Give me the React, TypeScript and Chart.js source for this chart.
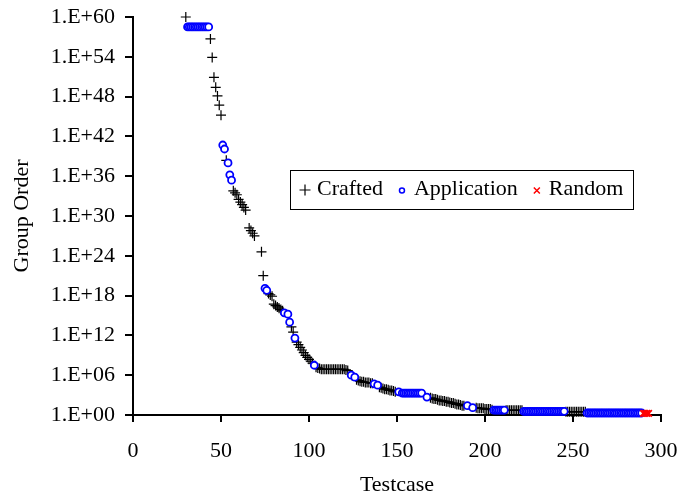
import React, { useEffect, useRef } from "react";
import { Chart, registerables } from "chart.js";

Chart.register(...registerables);

// ---------- data (x = testcase rank, exponent = log10(group order)) ----------
const craftedX = [
  30, 44, 45, 46, 47, 48, 49, 50, 53,
  57, 58, 59,
  60, 61, 62, 63, 64,
  66, 67, 68, 69,
  73, 74,
  77, 78, 79,
  80, 81, 82, 83, 84, 85,
  90, 91,
  93, 94, 95, 96, 97, 98, 99, 100, 101, 102,
  104, 105, 106, 107, 108, 109, 110, 111, 112, 113, 114, 115, 116, 117, 118, 119, 120, 121, 122,
  127, 128, 129, 130, 131, 132, 133, 134, 135, 136,
  140, 141, 142, 143, 144, 145, 146, 147, 148, 149,
  169, 170, 171, 172, 173, 174, 175, 176, 177, 178, 179, 180, 181, 182, 183, 184, 185, 186, 187, 188,
  195, 196, 197, 198, 199, 200, 201, 202, 203, 204,
  212, 213, 214, 215, 216, 217, 218, 219, 220, 221,
  246, 247, 248, 249, 250, 251, 252, 253, 254, 255, 256, 257,
];
const craftedExp = [
  60, 56.7, 53.9, 50.9, 49.4, 48.1, 46.7, 45.2, 38.4,
  33.8, 33.5, 33.2,
  32.5, 32.1, 31.7, 31.3, 30.9,
  28.2, 27.8, 27.4, 27.0,
  24.6, 21.0,
  18.3, 18.1, 17.9,
  16.7, 16.5, 16.3, 16.1, 15.9, 15.7,
  13.3, 12.5,
  11.0, 10.6, 10.2, 9.8, 9.4, 9.0, 8.7, 8.4, 8.1, 7.8,
  7.2, 7.1, 7.0, 6.9, 6.9, 6.9, 6.9, 6.9, 6.9, 6.9, 6.9, 6.9, 6.9, 6.9, 6.9, 6.9, 6.9, 6.8, 6.7,
  5.3, 5.2, 5.1, 5.0, 5.0, 4.9, 4.9, 4.9, 4.8, 4.8,
  4.2, 4.1, 4.0, 3.9, 3.9, 3.8, 3.7, 3.7, 3.6, 3.5,
  2.6, 2.5, 2.4, 2.4, 2.3, 2.2, 2.2, 2.1, 2.1, 2.0, 2.0, 1.9, 1.8, 1.8, 1.7, 1.6, 1.6, 1.5, 1.4, 1.4,
  1.1, 1.0, 1.0, 1.0, 1.0, 0.9, 0.9, 0.9, 0.9, 0.8,
  0.7, 0.7, 0.7, 0.7, 0.7, 0.7, 0.7, 0.7, 0.7, 0.7,
  0.5, 0.5, 0.5, 0.5, 0.5, 0.5, 0.5, 0.5, 0.5, 0.5, 0.5, 0.5,
];

const applicationX = [
  31, 32, 33, 34, 35, 36, 37, 38, 39, 40, 41, 42, 43,
  51, 52, 54, 55, 56,
  75, 76,
  86, 88, 89,
  92,
  103,
  124, 126,
  137, 139,
  151,
  153, 154, 155, 156, 157, 158, 159, 160, 161, 162, 163, 164,
  167,
  190, 193,
  205, 206, 207, 208, 209, 210, 211,
  222, 223, 224, 225, 226, 227, 228, 229, 230, 231, 232, 233, 234, 235, 236, 237, 238, 239, 240, 241, 242, 243, 244, 245,
  258, 259, 260, 261, 262, 263, 264, 265, 266, 267, 268, 269, 270, 271, 272, 273, 274, 275, 276, 277, 278, 279, 280, 281, 282, 283, 284, 285, 286, 287, 288, 289,
];
const applicationExp = [
  58.5, 58.5, 58.5, 58.5, 58.5, 58.5, 58.5, 58.5, 58.5, 58.5, 58.5, 58.5, 58.5,
  40.7, 40.1, 38.0, 36.2, 35.4,
  19.1, 18.8,
  15.4, 15.2, 14.0,
  11.6,
  7.5,
  6.0, 5.7,
  4.7, 4.5,
  3.5,
  3.3, 3.3, 3.3, 3.3, 3.3, 3.3, 3.3, 3.3, 3.3, 3.3, 3.3, 3.3,
  2.7,
  1.4, 1.1,
  0.75, 0.75, 0.75, 0.75, 0.75, 0.75, 0.75,
  0.55, 0.55, 0.55, 0.55, 0.55, 0.55, 0.55, 0.55, 0.55, 0.55, 0.55, 0.55, 0.55, 0.55, 0.55, 0.55, 0.55, 0.55, 0.55, 0.55, 0.55, 0.55, 0.55, 0.55,
  0.3, 0.3, 0.3, 0.3, 0.3, 0.3, 0.3, 0.3, 0.3, 0.3, 0.3, 0.3, 0.3, 0.3, 0.3, 0.3, 0.3, 0.3, 0.3, 0.3, 0.3, 0.3, 0.3, 0.3, 0.3, 0.3, 0.3, 0.3, 0.3, 0.3, 0.3, 0.3,
];

const randomX = [290, 291, 292, 293];
const randomExp = [0.25, 0.25, 0.25, 0.25];

const seriesNames = ["Crafted", "Application", "Random"];
const xTickValues = [0, 50, 100, 150, 200, 250, 300];
const yTickExponents = [0, 6, 12, 18, 24, 30, 36, 42, 48, 54, 60];
const yTickLabels = [
  "1.E+00", "1.E+06", "1.E+12", "1.E+18", "1.E+24", "1.E+30",
  "1.E+36", "1.E+42", "1.E+48", "1.E+54", "1.E+60",
];
const xTitle = "Testcase";
const yTitle = "Group Order";

// ---------- styling ----------
const FONT_FAMILY = "'Liberation Serif', 'Times New Roman', serif";
const FONT_SIZE = 22;
const W = 679;
const H = 498;

function toPoints(xs: number[], es: number[]) {
  return xs.map((x, i) => ({ x, y: Math.pow(10, es[i]) }));
}

const boxLegend = {
  id: "boxLegend",
  afterDraw(chart: any) {
    const ctx = chart.ctx as CanvasRenderingContext2D;
    ctx.save();
    ctx.strokeStyle = "#000";
    ctx.lineWidth = 1;
    ctx.strokeRect(290.5, 170.5, 343, 39);
    const cy = 189.5;
    ctx.font = `${FONT_SIZE}px ${FONT_FAMILY}`;
    ctx.textBaseline = "middle";
    ctx.textAlign = "left";
    ctx.fillStyle = "#000";
    let mx = 305;
    seriesNames.forEach((name, i) => {
      ctx.save();
      if (i === 0) {
        ctx.strokeStyle = "#000";
        ctx.lineWidth = 1.2;
        ctx.beginPath();
        ctx.moveTo(mx - 5.5, cy + 0.5);
        ctx.lineTo(mx + 5.5, cy + 0.5);
        ctx.moveTo(mx, cy - 5);
        ctx.lineTo(mx, cy + 6);
        ctx.stroke();
      } else if (i === 1) {
        ctx.strokeStyle = "#0000ff";
        ctx.lineWidth = 1.5;
        ctx.beginPath();
        ctx.arc(mx, cy + 1, 2.5, 0, Math.PI * 2);
        ctx.stroke();
      } else {
        ctx.strokeStyle = "#ff0000";
        ctx.lineWidth = 1.5;
        ctx.beginPath();
        ctx.moveTo(mx - 3, cy - 2);
        ctx.lineTo(mx + 3, cy + 4);
        ctx.moveTo(mx + 3, cy - 2);
        ctx.lineTo(mx - 3, cy + 4);
        ctx.stroke();
      }
      ctx.restore();
      const tx = mx + 12;
      ctx.fillText(name, tx, cy);
      mx = tx + ctx.measureText(name).width + 19;
    });
    ctx.restore();
  },
};

export default function App() {
  const ref = useRef<HTMLCanvasElement>(null);

  useEffect(() => {
    document.body.style.margin = "0";
    const canvas = ref.current;
    if (!canvas) return;
    Chart.defaults.color = "#000";
    Chart.defaults.font.family = FONT_FAMILY;
    Chart.defaults.font.size = FONT_SIZE;

    const chart = new Chart(canvas, {
      type: "scatter",
      data: {
        datasets: [
          {
            label: seriesNames[0],
            data: toPoints(craftedX, craftedExp),
            pointStyle: "cross",
            pointRadius: 5,
            borderColor: "#000",
            backgroundColor: "#000",
            pointBorderWidth: 1.2,
            showLine: false,
            clip: false as any,
            order: 3,
          },
          {
            label: seriesNames[1],
            data: toPoints(applicationX, applicationExp),
            pointStyle: "circle",
            pointRadius: 3.5,
            borderColor: "#0000ff",
            backgroundColor: "#ffffff",
            pointBorderWidth: 1.8,
            showLine: false,
            clip: false as any,
            order: 2,
          },
          {
            label: seriesNames[2],
            data: toPoints(randomX, randomExp),
            pointStyle: "crossRot",
            pointRadius: 4.5,
            borderColor: "#ff0000",
            backgroundColor: "#ff0000",
            pointBorderWidth: 1.8,
            showLine: false,
            clip: false as any,
            order: 1,
          },
        ],
      },
      options: {
        responsive: false,
        animation: false,
        devicePixelRatio: 1,
        events: [],
        layout: { padding: { top: 17, right: 18, left: 0, bottom: 0 } },
        plugins: {
          legend: { display: false },
          tooltip: { enabled: false },
        },
        scales: {
          x: {
            type: "linear",
            min: 0,
            max: 300,
            afterBuildTicks: (scale: any) => {
              scale.ticks = xTickValues.map((v) => ({ value: v }));
            },
            afterFit: (scale: any) => {
              scale.height = H - 415;
              scale.paddingLeft = 0;
              scale.paddingRight = 0;
            },
            ticks: {
              color: "#000",
              padding: 16,
              font: { family: FONT_FAMILY, size: FONT_SIZE },
              maxRotation: 0,
              autoSkip: false,
            },
            grid: {
              display: true,
              drawOnChartArea: false,
              drawTicks: true,
              tickLength: 7,
              color: "#000",
              lineWidth: 2,
            },
            border: { display: true, color: "#000", width: 2 },
            title: {
              display: true,
              text: xTitle,
              color: "#000",
              font: { family: FONT_FAMILY, size: FONT_SIZE },
              padding: { top: 0, bottom: 0 },
            },
          },
          y: {
            type: "logarithmic",
            min: 1,
            max: 1e60,
            afterBuildTicks: (scale: any) => {
              scale.ticks = yTickExponents.map((e) => ({ value: Math.pow(10, e) }));
            },
            afterFit: (scale: any) => {
              scale.width = 133;
              scale.paddingTop = 0;
              scale.paddingBottom = 0;
            },
            ticks: {
              color: "#000",
              padding: 10,
              autoSkip: false,
              font: { family: FONT_FAMILY, size: FONT_SIZE },
              callback: (_v: any, i: number) => yTickLabels[i],
            },
            grid: {
              display: true,
              drawOnChartArea: false,
              drawTicks: true,
              tickLength: 8,
              color: "#000",
              lineWidth: 2,
            },
            border: { display: true, color: "#000", width: 2 },
            title: {
              display: true,
              text: yTitle,
              color: "#000",
              font: { family: FONT_FAMILY, size: FONT_SIZE },
              padding: { top: 9, bottom: 0 },
            },
          },
        },
      },
      plugins: [boxLegend],
    } as any);

    return () => chart.destroy();
  }, []);

  return (
    <div style={{ width: W, height: H, background: "#fff" }}>
      <canvas ref={ref} width={W} height={H} style={{ display: "block" }} />
    </div>
  );
}
